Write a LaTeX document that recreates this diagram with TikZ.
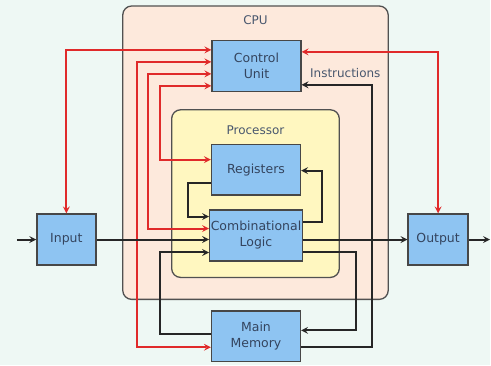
\documentclass[tikz,border=0pt]{standalone}
\usepackage{fontspec}
\setmainfont{DejaVu Sans}
\usepackage{tikz}
\usetikzlibrary{calc}
\tikzset{>=stealth}
\definecolor{boxblue}{HTML}{8EC4F2}
\definecolor{cpufill}{HTML}{FDE9DC}
\definecolor{procfill}{HTML}{FFF7C0}
\definecolor{ctrlred}{HTML}{E02A2A}
\definecolor{wire}{HTML}{262626}
\definecolor{labelc}{HTML}{34445E}
\definecolor{backc}{HTML}{EEF8F4}
\tikzset{
  unit/.style={draw=wire!85,fill=boxblue,line width=1.4pt,minimum width=89pt,minimum height=51pt,
    inner sep=1pt,align=center,text=labelc,font=\fontsize{12.5}{16}\selectfont},
  tag/.style={text=labelc!90,font=\fontsize{12}{14}\selectfont},
  group/.style={draw=wire!80,line width=1.3pt,rounded corners=9pt},
  ctrl/.style={draw=ctrlred,line width=2pt,<->},
  data/.style={draw=wire,line width=2pt,->},
}

\begin{document}
\begin{tikzpicture}[x=1pt,y=-1pt]
\fill[backc] (0,0) rectangle (491,366);
\filldraw[group,fill=cpufill] (123,6) rectangle (389,300);
\filldraw[group,fill=procfill] (172,110) rectangle (340,278);
\node[tag] (cpulabel) at (256,20) {CPU};
\node[tag] (proclabel) at (256,130) {Processor};
\node[tag] (instr) at (346,73) {Instructions};

    \node[unit] (cu) at (257,66) {Control\\Unit};
    \node[unit] (reg) at (256.5,170) {Registers};
    \node[unit] (logic) at (256.5,236) {Combinational\\Logic};
    \node[unit] (mem) at (256.5,337) {Main\\Memory};
    \node[unit,minimum width=59pt] (input) at (66.5,240) {Input};
    \node[unit,minimum width=60pt] (output) at (439,240) {Output};
    \coordinate (src) at (17,240);
    \coordinate (sink) at (491,240);

    \draw[ctrl] (input.north) |- (cu.west |- 0,50);
    \draw[ctrl] (cu.west |- 0,62) -| (137,348) -- (mem.west |- 0,348);
    \draw[ctrl] (cu.west |- 0,74) -| (148,229) -- (logic.west |- 0,229);
    \draw[ctrl] (cu.west |- 0,86) -| (160,160) -- (reg.west |- 0,160);
    \draw[ctrl] (cu.east |- 0,52) -| (output.north);

    \draw[data] (src) -- (input.west);
    \draw[data] (input.east) -- (logic.west |- input.east);
    \draw[data] (logic.east |- output.west) -- (output.west);
    \draw[data] (output.east) -- (sink);
    \draw[data] (reg.west |- 0,183) -| (188,217) -- (logic.west |- 0,217);
    \draw[data] (logic.east |- 0,222) -| (323,171) -- (reg.east |- 0,171);
    \draw[data] (mem.west |- 0,335) -| (160,253) -- (logic.west |- 0,253);
    \draw[data] (logic.east |- 0,253) -| (357,331) -- (mem.east |- 0,331);
    \draw[data] (mem.east |- 0,348) -| (373,85) -- (cu.east |- 0,85);
\end{tikzpicture}
\end{document}
